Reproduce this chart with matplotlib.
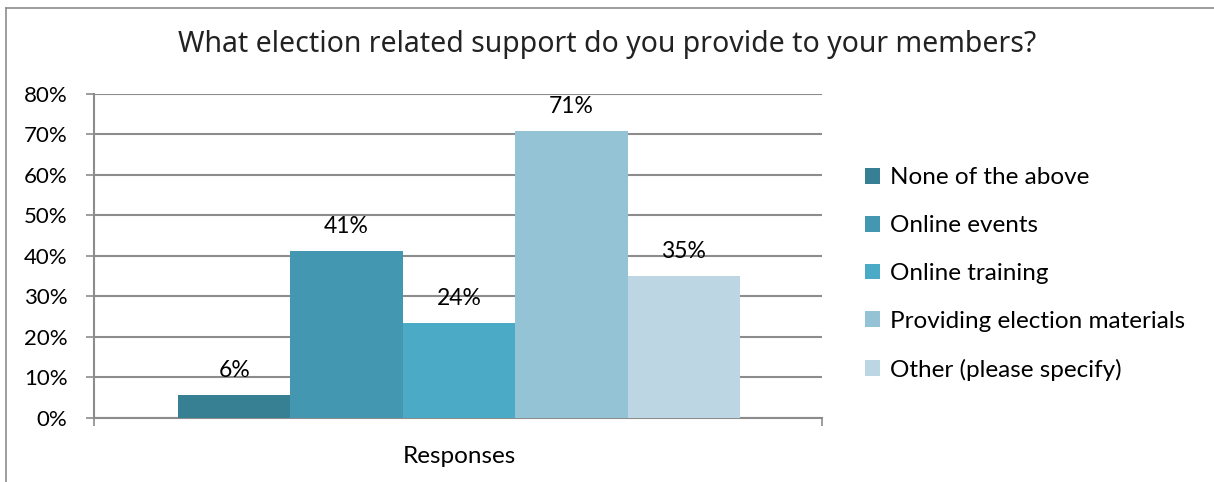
import matplotlib.pyplot as plt
import numpy as np
from matplotlib.lines import Line2D

# data
options = ['None of the above', 'Online events', 'Online training',
           'Providing election materials', 'Other (please specify)']
values = [5.7, 41.2, 23.5, 70.9, 35.1]
labels = ['6%', '41%', '24%', '71%', '35%']
colors = ['#377F93', '#4397B0', '#4BABC6', '#93C3D5', '#BCD7E3']
category = 'Responses'
title = 'What election related support do you provide to your members?'

fig = plt.figure(figsize=(12.14, 4.82), dpi=100)
ax = fig.add_axes([0.0774, 0.1328, 0.5997, 0.6722])

x = np.arange(len(values))
bars = ax.bar(x, values, width=1.0, color=colors, label=options, zorder=3)
for b, lab in zip(bars, labels):
    ax.annotate(lab, (b.get_x() + b.get_width() / 2, b.get_height()),
                xytext=(0, 10), textcoords='offset points', ha='center',
                va='bottom', fontsize=16.5, family='Lato')

ax.set_ylim(0, 80)
ax.set_yticks(np.arange(0, 81, 10))
ax.set_yticklabels([f'{v}%' for v in range(0, 81, 10)], fontsize=16, family='Lato')
ax.yaxis.grid(True, color='#8c8c8c', linewidth=1.5, zorder=0)
ax.tick_params(axis='y', length=6, color='#8c8c8c', width=1.2, pad=13)

left, right = -1.247, 5.23
ax.set_xlim(left, right)
ax.set_xticks([2])
ax.set_xticklabels([category], fontsize=17.5, family='Lato')
ax.set_xticks([left, right], minor=True)
ax.tick_params(axis='x', which='major', length=0, pad=20)
ax.tick_params(axis='x', which='minor', length=6, color='#8c8c8c', width=1.2)

for s in ['top', 'right']:
    ax.spines[s].set_visible(False)
for s in ['left', 'bottom']:
    ax.spines[s].set_color('#8c8c8c')
    ax.spines[s].set_linewidth(1.5)

fig.text(0.5, 0.907, title, ha='center', va='center', fontsize=20.5,
         family='Noto Sans', color='#222222', fontweight='light')

fig.legend(handles=bars, labels=options, loc='center left',
           bbox_to_anchor=(0.7125, 0.4315), frameon=False,
           prop={'family': 'Lato', 'size': 17.5}, handlelength=0.62,
           handleheight=0.62, handletextpad=0.4, labelspacing=1.1,
           borderpad=0, borderaxespad=0)

# outer chart border (only top and left visible)
fig.add_artist(Line2D([6 / 1214, 6 / 1214], [0, 1 - 8 / 482], color='#8c8c8c', lw=1.2,
                      transform=fig.transFigure))
fig.add_artist(Line2D([6 / 1214, 1], [1 - 8 / 482, 1 - 8 / 482], color='#8c8c8c', lw=1.2,
                      transform=fig.transFigure))

plt.savefig('out.png', dpi=100)
